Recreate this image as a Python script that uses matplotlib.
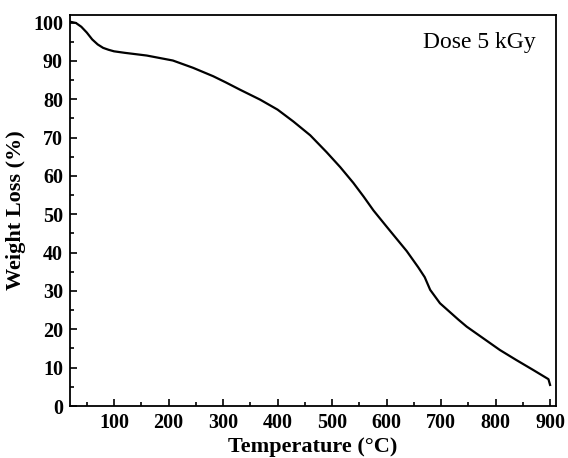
import matplotlib.pyplot as plt
from matplotlib.ticker import MultipleLocator

plt.rcParams['font.family'] = ['Liberation Serif', 'DejaVu Serif']

# TGA curve
temperature = [20, 30, 40, 50, 60, 70, 80, 90, 100, 120, 160, 208, 245, 282,
               305, 331, 368, 400, 429, 460, 490, 515, 539, 558, 576, 600, 615,
               637, 658, 670, 680, 698, 732, 747, 778, 808, 838, 869, 897, 900]
weight = [100.2, 99.9, 98.9, 97.4, 95.6, 94.3, 93.4, 92.9, 92.5, 92.1, 91.4,
          90.1, 88.2, 86.0, 84.4, 82.5, 79.9, 77.3, 74.2, 70.6, 66.2, 62.3,
          58.2, 54.6, 51.0, 46.8, 44.2, 40.4, 36.2, 33.6, 30.3, 26.8, 22.5,
          20.7, 17.6, 14.6, 12.0, 9.4, 7.0, 5.5]

x_ticks = [100, 200, 300, 400, 500, 600, 700, 800, 900]
y_ticks = [0, 10, 20, 30, 40, 50, 60, 70, 80, 90, 100]

fig = plt.figure(figsize=(5.68, 4.58), dpi=100)
ax = fig.add_axes([0.123, 0.1135, 0.856, 0.854])

ax.plot(temperature, weight, color='black', linewidth=1.6)

ax.set_xlim(19, 911)
ax.set_ylim(0, 102)
ax.set_xticks(x_ticks)
ax.set_yticks(y_ticks)
ax.xaxis.set_minor_locator(MultipleLocator(50))
ax.yaxis.set_minor_locator(MultipleLocator(5))
ax.tick_params(which='both', direction='in', top=False, right=False, width=1.2)
ax.tick_params(which='major', length=5, labelsize=14.5, pad=5)
ax.tick_params(which='minor', length=3)
for lab in ax.get_xticklabels() + ax.get_yticklabels():
    lab.set_fontweight('bold')
for sp in ax.spines.values():
    sp.set_linewidth(1.3)

ax.set_xlabel('Temperature (°C)', fontsize=16, fontweight='bold', labelpad=3)
ax.set_ylabel('Weight Loss (%)', fontsize=16, fontweight='bold', labelpad=5)

ax.text(0.726, 0.93, 'Dose 5 kGy', transform=ax.transAxes, fontsize=17,
        va='center', ha='left')

fig.savefig('out.png', dpi=100)
